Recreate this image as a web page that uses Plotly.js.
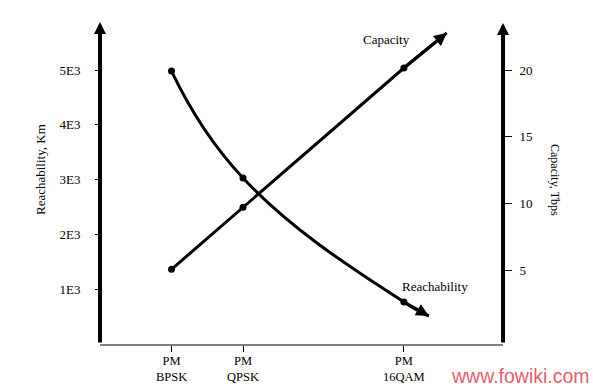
<!DOCTYPE html>
<html>
<head>
<meta charset="utf-8">
<script src="https://cdn.plot.ly/plotly-3.0.1.min.js"></script>
<style>html,body{margin:0;padding:0;background:#fff;}#chart{width:593px;height:388px;}</style>
</head>
<body>
<div id="chart"></div>
<script>
// ---- data ----
const categories = ['BPSK', 'QPSK', '16QAM'];
const categoryPrefix = 'PM';
const xPositions = [1, 2, 4.25];
const reachability = [4980, 3030, 766];       // Km (left axis)
const capacity = [5.05, 9.7, 20.15];          // Tbps (right axis)
const reachabilityArrowTip = [4.6, 511];
const capacityArrowTip = [4.85, 22.78];
const leftTickVals = [1000, 2000, 3000, 4000, 5000];
const leftTickText = ['1E3', '2E3', '3E3', '4E3', '5E3'];
const rightTickVals = [5, 10, 15, 20];
const leftTitle = 'Reachability, Km';
const rightTitle = 'Capacity, Tbps';
const seriesLabels = ['Reachability', 'Capacity'];
const watermark = 'www.fowiki.com';

const serif = 'Liberation Serif, Times New Roman, serif';

function curve(xs, ys, tip, axis, shape) {
  return {
    x: xs.concat([tip[0]]),
    y: ys.concat([tip[1]]),
    yaxis: axis,
    mode: 'lines',
    line: {color: '#000', width: 3, shape: shape, smoothing: 1.3},
    hoverinfo: 'skip'
  };
}

function points(xs, ys, axis) {
  return {
    x: xs, y: ys, yaxis: axis, mode: 'markers',
    marker: {color: '#000', symbol: 'circle', size: 7, line: {width: 0}},
    hoverinfo: 'skip'
  };
}

const traces = [
  curve(xPositions, reachability, reachabilityArrowTip, 'y', 'spline'),
  curve(xPositions, capacity, capacityArrowTip, 'y2', 'linear'),
  points(xPositions, reachability, 'y'),
  points(xPositions, capacity, 'y2')
];

function arrowHead(xs, ys, tip, yref) {
  const n = xs.length - 1;
  return {
    xref: 'x', yref: yref, axref: 'x', ayref: yref,
    x: tip[0], y: tip[1], ax: xs[n], ay: ys[n],
    showarrow: true, arrowhead: 2, arrowsize: 0.85, arrowwidth: 3, arrowcolor: '#000',
    standoff: 0, startstandoff: 0, text: ''
  };
}

const annotations = [
  // axis arrows
  {xref: 'paper', yref: 'paper', x: 0, y: 1.003, ax: 0, ay: 322, axref: 'pixel', ayref: 'pixel',
   showarrow: true, arrowhead: 2, arrowsize: 0.6, arrowwidth: 4, arrowcolor: '#000', text: ''},
  {xref: 'paper', yref: 'paper', x: 1, y: 1, ax: 0, ay: 321, axref: 'pixel', ayref: 'pixel',
   showarrow: true, arrowhead: 2, arrowsize: 0.6, arrowwidth: 4, arrowcolor: '#000', text: ''},
  // curve arrowheads
  arrowHead(xPositions, reachability, reachabilityArrowTip, 'y'),
  arrowHead(xPositions, capacity, capacityArrowTip, 'y2'),
  // axis titles
  {xref: 'paper', yref: 'paper', x: -0.149, y: 0.545, text: leftTitle, textangle: -90, showarrow: false,
   xanchor: 'center', yanchor: 'middle', font: {family: serif, size: 13, color: '#000'}},
  {xref: 'paper', yref: 'paper', x: 1.129, y: 0.511, text: rightTitle, textangle: 90, showarrow: false,
   xanchor: 'center', yanchor: 'middle', font: {family: serif, size: 12, color: '#000'}},
  // series labels
  {xref: 'paper', yref: 'paper', x: 0.831, y: 0.178, text: seriesLabels[0], showarrow: false,
   xanchor: 'center', yanchor: 'middle', font: {family: serif, size: 13, color: '#000'}},
  {xref: 'paper', yref: 'paper', x: 0.7097, y: 0.950, text: seriesLabels[1], showarrow: false,
   xanchor: 'center', yanchor: 'middle', font: {family: serif, size: 13, color: '#000'}},
  // watermark
  {xref: 'paper', yref: 'paper', x: 1.22, y: -0.101, text: watermark, showarrow: false,
   xanchor: 'right', yanchor: 'middle', font: {family: 'Liberation Sans, Arial, sans-serif', size: 19.5, color: '#e8606c'}}
];

// category tick labels (two lines each)
categories.forEach(function (c, i) {
  annotations.push({xref: 'x', yref: 'paper', x: xPositions[i], y: -0.024, text: categoryPrefix + '<br>' + c,
    showarrow: false, xanchor: 'center', yanchor: 'top',
    font: {family: serif, size: 12.5, color: '#000'}});
});

const layout = {
  width: 593, height: 388,
  margin: {l: 100, r: 90, t: 23, b: 44, pad: 0},
  paper_bgcolor: '#fff', plot_bgcolor: '#fff',
  showlegend: false,
  xaxis: {
    range: [0, 403 / 71.5], showgrid: false, zeroline: false,
    showline: true, linecolor: '#808080', linewidth: 2,
    ticks: 'outside', ticklen: 6, tickwidth: 1, tickcolor: '#000',
    tickvals: xPositions, showticklabels: false, fixedrange: true
  },
  yaxis: {
    range: [0, 5858], showgrid: false, zeroline: false, showline: false,
    ticks: 'outside', ticklen: 4, tickwidth: 1, tickcolor: '#000',
    tickvals: leftTickVals, ticktext: leftTickText, ticklabelstandoff: 12,
    tickfont: {family: serif, size: 13, color: '#000'}, fixedrange: true
  },
  yaxis2: {
    overlaying: 'y', side: 'right',
    range: [-0.55, 23.525], showgrid: false, zeroline: false, showline: false,
    ticks: 'outside', ticklen: 8, tickwidth: 1, tickcolor: '#000',
    tickvals: rightTickVals, ticklabelstandoff: 5,
    tickfont: {family: serif, size: 13, color: '#000'}, fixedrange: true
  },
  annotations: annotations
};

Plotly.newPlot('chart', traces, layout, {displayModeBar: false, staticPlot: true});
</script>
</body>
</html>
